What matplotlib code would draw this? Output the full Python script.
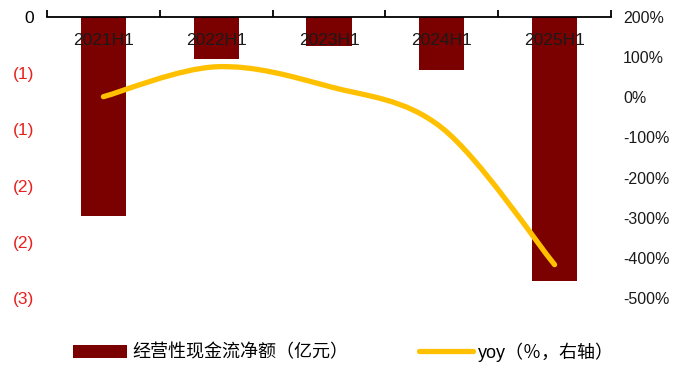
import matplotlib
matplotlib.use('Agg')
import matplotlib.pyplot as plt
from matplotlib.path import Path
from matplotlib.patches import PathPatch
from matplotlib.lines import Line2D
from matplotlib.patches import Patch
from matplotlib.ticker import FuncFormatter

plt.rcParams['font.family'] = ['Liberation Sans', 'Noto Sans CJK SC', 'DejaVu Sans']

periods = ['2021H1', '2022H1', '2023H1', '2024H1', '2025H1']
cash_flow = [-1.77, -0.37, -0.26, -0.47, -2.35]   # 亿元
yoy = [1.5, 76, 27, -76, -417]                     # %

left_ticks = [0, -0.5, -1.0, -1.5, -2.0, -2.5]
right_ticks = [200, 100, 0, -100, -200, -300, -400, -500]

bar_color = '#7B0000'
line_color = '#FFC000'

fig = plt.figure(figsize=(6.89, 3.65), dpi=100)
ax = fig.add_axes([47 / 689, 1 - 298 / 365, 564 / 689, 281 / 365])
ax2 = ax.twinx()

x = list(range(len(periods)))
ax.bar(x, cash_flow, width=0.4, color=bar_color, zorder=2)
ax.set_xlim(-0.5, len(periods) - 0.5)
ax.set_ylim(-2.5, 0)

# category axis sits at the top (value 0), ticks between categories
for s in ['left', 'right', 'bottom']:
    ax.spines[s].set_visible(False)
    ax2.spines[s].set_visible(False)
ax2.spines['top'].set_visible(False)
ax.spines['top'].set_linewidth(1.3)
ax.xaxis.tick_top()
ax.set_xticks([i - 0.5 for i in range(len(periods) + 1)])
ax.set_xticklabels([])
ax.tick_params(axis='x', direction='out', length=5, width=1.3, color='black')
for i, p in enumerate(periods):
    ax.annotate(p, xy=(i, 0), xytext=(0, -17), textcoords='offset points',
                ha='center', va='center', fontsize=12.5, color='#1a1a1a', zorder=3)


def paren_fmt(v, pos=None):
    if abs(v) < 1e-9:
        return '0'
    return '({})'.format(int(abs(v) + 0.5))


ax.set_yticks(left_ticks)
ax.yaxis.set_major_formatter(FuncFormatter(paren_fmt))
ax.tick_params(axis='y', length=0, pad=9.5, labelsize=12.5)
for lab, v in zip(ax.get_yticklabels(), left_ticks):
    lab.set_color('black' if v == 0 else '#E8201E')

# right axis: yoy
ax2.set_ylim(-500, 200)
ax2.set_yticks(right_ticks)
ax2.yaxis.set_major_formatter(FuncFormatter(lambda v, p: '{:.0f}%'.format(v)))
ax2.tick_params(axis='y', length=0, pad=8.6, labelsize=11.5, labelcolor='#1a1a1a')

# smoothed yoy line (cubic Bezier segments through the points)
pts = list(zip(x, yoy))
verts = [pts[0]]
codes = [Path.MOVETO]
n = len(pts)
for i in range(n - 1):
    p0 = pts[i - 1] if i > 0 else pts[i]
    p1 = pts[i]
    p2 = pts[i + 1]
    p3 = pts[i + 2] if i + 2 < n else pts[i + 1]
    c1 = (p1[0] + (p2[0] - p0[0]) / 6, p1[1] + (p2[1] - p0[1]) / 6)
    c2 = (p2[0] - (p3[0] - p1[0]) / 6, p2[1] - (p3[1] - p1[1]) / 6)
    verts += [c1, c2, p2]
    codes += [Path.CURVE4] * 3
ax2.add_patch(PathPatch(Path(verts, codes), facecolor='none', edgecolor=line_color,
                        linewidth=3.8, capstyle='round', joinstyle='round', zorder=4))

handles = [Patch(facecolor=bar_color, edgecolor='none'),
           Line2D([0], [0], color=line_color, linewidth=3.8, solid_capstyle='round')]
labels = ['经营性现金流净额（亿元）', 'yoy（％，右轴）']
fig.legend(handles, labels, loc='center', bbox_to_anchor=(343.5 / 689, 1 - 352 / 365),
           ncol=2, frameon=False, handlelength=3.0, handleheight=0.7,
           handletextpad=0.3, columnspacing=3.9,
           prop={'family': ['Liberation Sans', 'Noto Sans CJK SC'], 'size': 13})

fig.savefig('out.png', dpi=100)
